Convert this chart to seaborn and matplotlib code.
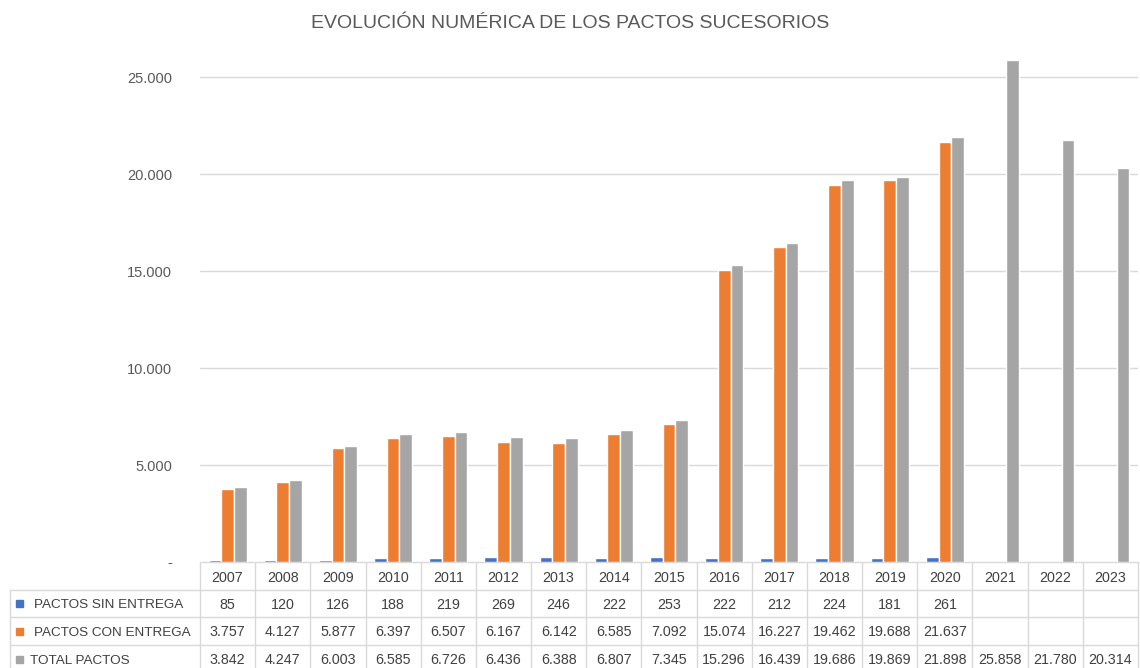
import numpy as np
import pandas as pd
import matplotlib
matplotlib.use("Agg")
import matplotlib.pyplot as plt
import seaborn as sns
from matplotlib.ticker import FuncFormatter

# Data
years = [str(y) for y in range(2007, 2024)]
sin_entrega = [85, 120, 126, 188, 219, 269, 246, 222, 253, 222, 212, 224, 181, 261,
               None, None, None]
con_entrega = [3757, 4127, 5877, 6397, 6507, 6167, 6142, 6585, 7092, 15074, 16227,
               19462, 19688, 21637, None, None, None]
total = [3842, 4247, 6003, 6585, 6726, 6436, 6388, 6807, 7345, 15296, 16439, 19686,
         19869, 21898, 25858, 21780, 20314]

series = ["PACTOS SIN ENTREGA", "PACTOS CON ENTREGA", "TOTAL PACTOS"]
colors = ["#4472C4", "#ED7D31", "#A5A5A5"]

rows = []
for name, vals in zip(series, [sin_entrega, con_entrega, total]):
    for y, v in zip(years, vals):
        rows.append({"year": y, "serie": name, "valor": v})
df = pd.DataFrame(rows)

sns.set_style("white")
plt.rcParams["font.family"] = ["Liberation Sans", "DejaVu Sans"]

W, H = 1140, 668
fig = plt.figure(figsize=(W / 100, H / 100), dpi=100)
x0, x1, y_base = 200, 1138, 562
ax = fig.add_axes([x0 / W, (H - y_base) / H, (x1 - x0) / W, 514 / H])

sns.barplot(data=df.dropna(), x="year", y="valor", hue="serie", order=years,
            hue_order=series, palette=colors, width=0.69, gap=0, ax=ax,
            errorbar=None, legend=False, saturation=1)

ax.set_xlim(-0.5, len(years) - 0.5)
ax.set_ylim(0, 26500)
ax.set_yticks([0, 5000, 10000, 15000, 20000, 25000])
ax.yaxis.set_major_formatter(FuncFormatter(
    lambda v, p: "-" if v == 0 else f"{int(v):,}".replace(",", ".")))
ax.tick_params(axis="y", length=0, labelsize=10.5, labelcolor="#595959", pad=20)
ax.set_xticks([])
ax.set_xlabel("")
ax.set_ylabel("")
ax.grid(axis="y", color="#D9D9D9", linewidth=1)
ax.set_axisbelow(True)
for s in ax.spines.values():
    s.set_visible(False)

fig.text(570 / W, 1 - 23 / H, "EVOLUCIÓN NUMÉRICA DE LOS PACTOS SUCESORIOS",
         ha="center", va="center", fontsize=14, color="#595959")

# Data table below the chart, drawn in pixel coordinates
tab = fig.add_axes([0, 0, 1, 1], zorder=-1)
tab.set_xlim(0, W)
tab.set_ylim(H, 0)
tab.axis("off")
lc = "#D9D9D9"
tc = "#404040"
fs = 10.3
col_w = (x1 - x0) / len(years)
row_y = [562, 590, 617, 645, 673]
label_x0 = 10

# horizontal lines
tab.plot([x0, x1], [row_y[0], row_y[0]], color=lc, lw=1)
for yy in row_y[1:]:
    tab.plot([label_x0, x1], [yy, yy], color=lc, lw=1)
# vertical lines
for k in range(len(years) + 1):
    xx = x0 + k * col_w
    tab.plot([xx, xx], [row_y[0], row_y[-1]], color=lc, lw=1)
tab.plot([label_x0, label_x0], [row_y[1], row_y[-1]], color=lc, lw=1)

for k, y in enumerate(years):
    tab.text(x0 + (k + 0.5) * col_w, (row_y[0] + row_y[1]) / 2, y,
             ha="center", va="center_baseline", fontsize=fs, color=tc)

for r, (name, vals, c) in enumerate(zip(series, [sin_entrega, con_entrega, total], colors)):
    yc = (row_y[r + 1] + row_y[r + 2]) / 2
    tab.add_patch(plt.Rectangle((16, yc - 3.5), 7, 7, color=c))
    tab.text(34 if r < 2 else 30, yc, name, ha="left", va="center_baseline",
             fontsize=9.7, color=tc)
    for k, v in enumerate(vals):
        if v is None:
            continue
        tab.text(x0 + (k + 0.5) * col_w, yc, f"{v:,}".replace(",", "."),
                 ha="center", va="center_baseline", fontsize=fs, color=tc)

fig.savefig("out.png", dpi=100)
